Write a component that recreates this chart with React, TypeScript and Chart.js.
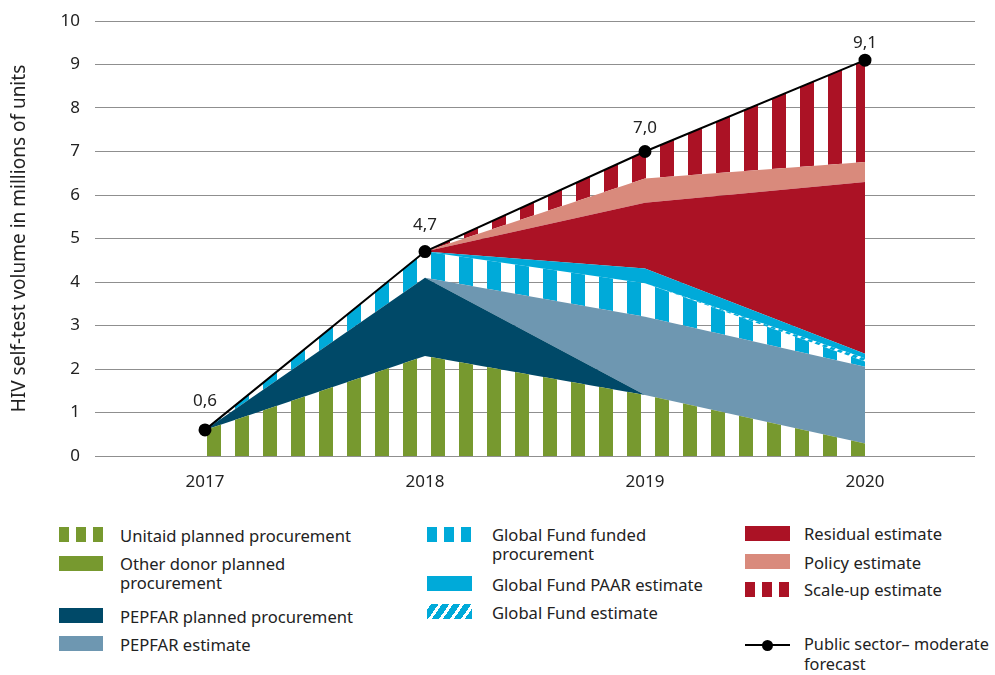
import React, { useEffect, useRef } from "react";
import { Chart, registerables } from "chart.js";
Chart.register(...registerables);

const years = ["2017", "2018", "2019", "2020"];
const unitaidPlanned = [0.6, 2.3, 1.4, 0.29];
const otherDonorPlanned = [0, 0, 0, 0];
const pepfarPlanned = [0, 1.8, 0, 0];
const pepfarEstimate = [0, 0, 1.8, 1.76];
const gfFunded = [0, 0.6, 0.77, 0.12];
const gfEstimate = [0, 0, 0, 0.08];
const gfPaar = [0, 0, 0.34, 0.1];
const residualEstimate = [0, 0, 1.51, 3.95];
const policyEstimate = [0, 0, 0.56, 0.46];
const scaleUpEstimate = [0, 0, 0.62, 2.34];
const publicSectorForecast = [0.6, 4.7, 7.0, 9.1];
const forecastLabels = ["0,6", "4,7", "7,0", "9,1"];
const yAxisTitle = "HIV self-test volume in millions of units";

const GREEN = "#77992f";
const DARKBLUE = "#004968";
const STEEL = "#6e97b1";
const CYAN = "#00aad9";
const RED = "#ab1225";
const PINK = "#d98a7c";
const TEXT = "#222222";
const FONT = '"Noto Sans", sans-serif';
const LABEL_GAPS = [29, 26, 23, 17];

function stripes(color: string, offset: number): CanvasPattern {
  const c = document.createElement("canvas");
  c.width = 28;
  c.height = 4;
  const g = c.getContext("2d")!;
  g.fillStyle = color;
  g.fillRect(offset, 0, 14, 4);
  if (offset + 14 > 28) g.fillRect(0, 0, offset + 14 - 28, 4);
  return g.createPattern(c, "repeat")!;
}

function diagonal(color: string): CanvasPattern {
  const c = document.createElement("canvas");
  c.width = 10;
  c.height = 10;
  const g = c.getContext("2d")!;
  g.fillStyle = color;
  g.fillRect(0, 0, 10, 10);
  g.strokeStyle = "#ffffff";
  g.lineWidth = 3;
  g.beginPath();
  g.moveTo(-2, 12);
  g.lineTo(12, -2);
  g.moveTo(-2, 2);
  g.lineTo(2, -2);
  g.moveTo(8, 12);
  g.lineTo(12, 8);
  g.stroke();
  return g.createPattern(c, "repeat")!;
}

const labelPlugin = {
  id: "forecastLabels",
  afterDatasetsDraw(chart: any) {
    const idx = chart.data.datasets.findIndex((d: any) => d.stack === "total");
    const meta = chart.getDatasetMeta(idx);
    const ctx = chart.ctx;
    ctx.save();
    ctx.font = `17px ${FONT}`;
    ctx.fillStyle = TEXT;
    ctx.textAlign = "center";
    ctx.textBaseline = "middle";
    meta.data.forEach((pt: any, i: number) => {
      ctx.fillText(forecastLabels[i], pt.x, pt.y - LABEL_GAPS[i]);
    });
    ctx.restore();
  },
};

function area(label: string, data: number[], bg: any, fill: any) {
  return {
    type: "line" as const,
    label,
    data,
    backgroundColor: bg,
    borderWidth: 0,
    borderColor: "rgba(0,0,0,0)",
    pointRadius: 0,
    pointHoverRadius: 0,
    fill,
    tension: 0,
  };
}

const stripeSwatch = (color: string) => ({
  background: `repeating-linear-gradient(90deg, ${color} 0px, ${color} 10px, transparent 10px, transparent 17px)`,
});
const solidSwatch = (color: string) => ({ background: color });
const diagSwatch = (color: string) => ({
  background: `repeating-linear-gradient(-55deg, ${color} 0px, ${color} 6px, #ffffff 6px, #ffffff 9px)`,
});

type Item = { left: number; top: number; w: number; style: any; textLeft: number; textTop: number; text: string[] };

// positions are relative to the chart block (page offset 8,8)
const legendItems: Item[] = [
  { left: 51, top: 519, w: 44, style: stripeSwatch(GREEN), textLeft: 112, textTop: 518, text: ["Unitaid planned procurement"] },
  { left: 51, top: 548, w: 44, style: solidSwatch(GREEN), textLeft: 112, textTop: 546, text: ["Other donor planned", "procurement"] },
  { left: 51, top: 600, w: 44, style: solidSwatch(DARKBLUE), textLeft: 112, textTop: 599, text: ["PEPFAR planned procurement"] },
  { left: 51, top: 628, w: 44, style: solidSwatch(STEEL), textLeft: 112, textTop: 627, text: ["PEPFAR estimate"] },
  { left: 419, top: 519, w: 45, style: stripeSwatch(CYAN), textLeft: 484, textTop: 517, text: ["Global Fund funded", "procurement"] },
  { left: 419, top: 568, w: 45, style: solidSwatch(CYAN), textLeft: 484, textTop: 567, text: ["Global Fund PAAR estimate"] },
  { left: 419, top: 596, w: 45, style: diagSwatch(CYAN), textLeft: 484, textTop: 595, text: ["Global Fund estimate"] },
  { left: 737, top: 518, w: 45, style: solidSwatch(RED), textLeft: 796, textTop: 516, text: ["Residual estimate"] },
  { left: 737, top: 546, w: 45, style: solidSwatch(PINK), textLeft: 796, textTop: 545, text: ["Policy estimate"] },
  { left: 737, top: 574, w: 45, style: stripeSwatch(RED), textLeft: 796, textTop: 572, text: ["Scale-up estimate"] },
];

export default function App() {
  const ref = useRef<HTMLCanvasElement | null>(null);

  useEffect(() => {
    const prevOverflow = document.documentElement.style.overflow;
    const prevMargin = document.body.style.margin;
    document.documentElement.style.overflow = "hidden";
    document.body.style.margin = "0";
    const canvas = ref.current!;
    const chart = new Chart(canvas, {
      type: "line",
      data: {
        labels: years,
        datasets: [
          area("Unitaid planned procurement", unitaidPlanned, stripes(GREEN, 3), "origin"),
          area("Other donor planned procurement", otherDonorPlanned, GREEN, "-1"),
          area("PEPFAR planned procurement", pepfarPlanned, DARKBLUE, "-1"),
          area("PEPFAR estimate", pepfarEstimate, STEEL, "-1"),
          area("Global Fund funded procurement", gfFunded, stripes(CYAN, 3), "-1"),
          area("Global Fund estimate", gfEstimate, diagonal(CYAN), "-1"),
          area("Global Fund PAAR estimate", gfPaar, CYAN, "-1"),
          area("Residual estimate", residualEstimate, RED, "-1"),
          area("Policy estimate", policyEstimate, PINK, "-1"),
          area("Scale-up estimate", scaleUpEstimate, stripes(RED, 8), "-1"),
          {
            type: "line",
            label: "Public sector– moderate forecast",
            data: publicSectorForecast,
            stack: "total",
            borderColor: "#000000",
            borderWidth: 2,
            backgroundColor: "#000000",
            pointBackgroundColor: "#000000",
            pointBorderColor: "#000000",
            pointRadius: 5.5,
            pointHoverRadius: 5.5,
            fill: false,
            tension: 0,
            order: -1,
          } as any,
        ],
      },
      options: {
        responsive: false,
        animation: false,
        events: [],
        layout: { padding: { top: 13, right: 12, left: 0, bottom: 0 } },
        plugins: {
          legend: { display: false },
          tooltip: { enabled: false },
        },
        scales: {
          x: {
            type: "category",
            offset: true,
            grid: { display: false, drawTicks: false },
            border: { display: false },
            ticks: { color: TEXT, font: { family: FONT, size: 17 }, padding: 16 },
            afterFit: (s: any) => {
              s.height = 52;
            },
          },
          y: {
            stacked: true,
            min: 0,
            max: 10,
            grid: { color: "#8f8f8f", lineWidth: 1, drawTicks: true, tickLength: 15, tickColor: "rgba(0,0,0,0)" },
            border: { display: false },
            ticks: { stepSize: 1, color: TEXT, font: { family: FONT, size: 17 }, padding: 0 },
            title: {
              display: true,
              text: yAxisTitle,
              color: TEXT,
              font: { family: FONT, size: 19 },
              padding: 0,
            },
            afterFit: (s: any) => {
              s.width = 87;
            },
          },
        },
      } as any,
      plugins: [labelPlugin],
    });
    return () => {
      chart.destroy();
      document.documentElement.style.overflow = prevOverflow;
      document.body.style.margin = prevMargin;
    };
  }, []);

  return (
    <div style={{ width: 995, height: 675, padding: 8, boxSizing: "border-box", fontFamily: FONT, color: TEXT }}>
      <div style={{ position: "relative", width: 979, height: 659 }}>
        <canvas ref={ref} width={979} height={500} style={{ display: "block" }} />
        {legendItems.map((it, i) => (
          <React.Fragment key={i}>
            <div style={{ position: "absolute", left: it.left, top: it.top, width: it.w, height: 15, ...it.style }} />
            <div style={{ position: "absolute", left: it.textLeft, top: it.textTop, fontSize: 16.6, lineHeight: "19px", whiteSpace: "nowrap" }}>
              {it.text.map((t, j) => (
                <div key={j}>{t}</div>
              ))}
            </div>
          </React.Fragment>
        ))}
        <div style={{ position: "absolute", left: 737, top: 636, width: 45, height: 2, background: "#000" }} />
        <div style={{ position: "absolute", left: 754, top: 631.5, width: 11, height: 11, borderRadius: "50%", background: "#000" }} />
        <div style={{ position: "absolute", left: 796, top: 626, fontSize: 16.3, lineHeight: "20px", whiteSpace: "nowrap" }}>
          <div>Public sector– moderate</div>
          <div>forecast</div>
        </div>
      </div>
    </div>
  );
}
